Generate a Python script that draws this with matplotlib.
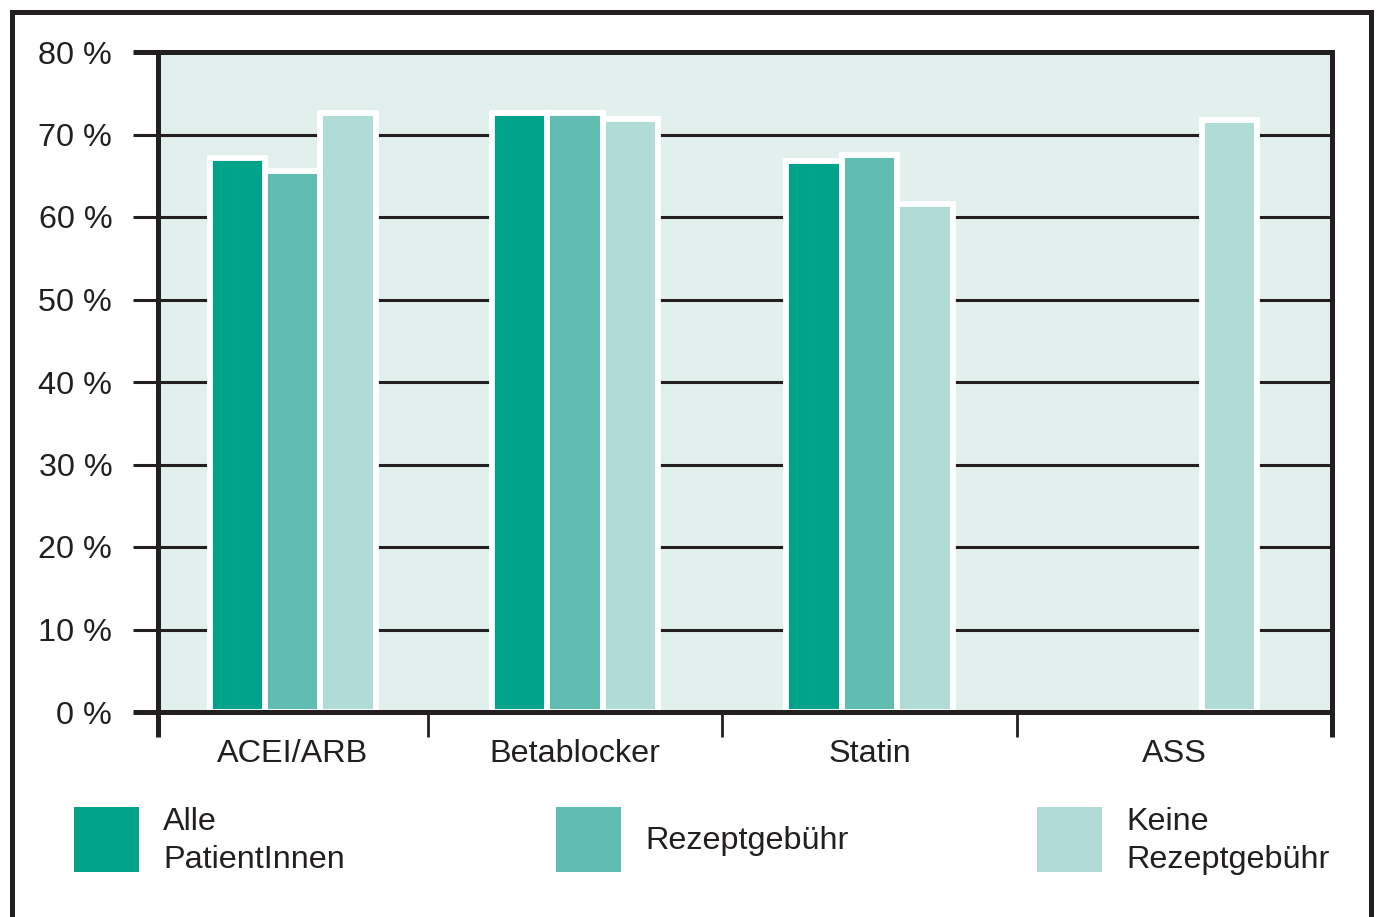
import numpy as np
import matplotlib
matplotlib.use("Agg")
import matplotlib.pyplot as plt
from matplotlib.patches import Rectangle
from matplotlib.lines import Line2D

# --- data -------------------------------------------------------------
categories = ["ACEI/ARB", "Betablocker", "Statin", "ASS"]
series_names = ["Alle\nPatientInnen", "Rezeptgebühr", "Keine\nRezeptgebühr"]
alle = [67.2, 72.6, 66.8, np.nan]
rezeptgebuehr = [65.6, 72.6, 67.5, np.nan]
keine_gebuehr = [72.6, 71.9, 61.6, 71.8]
y_ticks = [0, 10, 20, 30, 40, 50, 60, 70, 80]
y_tick_labels = [f"{v} %" for v in y_ticks]

# --- style ------------------------------------------------------------
colors = ["#00a38a", "#61bdb2", "#b0dbd6"]
ink = "#231f20"
panel_bg = "#e2f0ed"
plt.rcParams["font.family"] = ["Liberation Sans", "DejaVu Sans"]
FS = 23.3

W, H = 1379, 917
fig = plt.figure(figsize=(W / 100, H / 100), dpi=100)
fig.patch.set_facecolor("white")

def fx(px):
    return px / W

def fy(py):
    return 1 - py / H

ax = fig.add_axes([fx(158), fy(712), fx(1332) - fx(158), fy(52) - fy(712)])
ax.set_facecolor(panel_bg)

# group widths (relative) -> group edges and centres
group_span = [0.915, 1.0, 1.0, 1.07]
edges = np.concatenate([[0], np.cumsum(group_span)])
centres = (edges[:-1] + edges[1:]) / 2
bar_w = 0.188

values = [alle, rezeptgebuehr, keine_gebuehr]
for i, (vals, col) in enumerate(zip(values, colors)):
    offs = (i - 1) * bar_w
    ax.bar(centres + offs, vals, width=bar_w, color=col,
           edgecolor="white", linewidth=4.2, zorder=3)

ax.set_xlim(edges[0], edges[-1])
ax.set_ylim(0, 80)

# horizontal grid behind the bars
ax.set_axisbelow(True)
ax.yaxis.grid(True, color=ink, linewidth=2.2)
ax.xaxis.grid(False)

for s in ax.spines.values():
    s.set_color(ink)
    s.set_linewidth(3.6)
    s.set_zorder(5)

ax.set_yticks(y_ticks)
ax.set_yticklabels(y_tick_labels, fontsize=FS, color=ink)
ax.tick_params(axis="y", length=18, width=2.2, color=ink, pad=15,
               direction="out")
for t in (ax.yaxis.get_major_ticks()[0], ax.yaxis.get_major_ticks()[-1]):
    t.tick1line.set_markeredgewidth(3.6)

# category separators as major ticks, names as minor tick labels
ax.set_xticks(edges)
ax.set_xticklabels([""] * len(edges))
ax.tick_params(axis="x", which="major", length=18, width=2.0, color=ink,
               direction="out")
for t in (ax.xaxis.get_major_ticks()[0], ax.xaxis.get_major_ticks()[-1]):
    t.tick1line.set_markeredgewidth(3.6)
ax.set_xticks(centres, minor=True)
ax.set_xticklabels(categories, minor=True, fontsize=FS, color=ink)
ax.tick_params(axis="x", which="minor", length=0, pad=19.5)

# legend swatches and labels
legend_x = [74, 556, 1037]
for x0, col, name in zip(legend_x, colors, series_names):
    fig.add_artist(Rectangle((fx(x0), fy(872)), fx(65), fy(807) - fy(872),
                             transform=fig.transFigure, facecolor=col,
                             edgecolor="none"))
    fig.text(fx(x0 + 89), fy(841), name, fontsize=FS, color=ink,
             ha="left", va="center", linespacing=1.33)

# outer frame (open at the bottom)
for xs, ys in [([12, 12], [12, 930]), ([12, 1371], [12, 12]),
               ([1371, 1371], [12, 930])]:
    fig.add_artist(Line2D([fx(x) for x in xs], [fy(y) for y in ys],
                          transform=fig.transFigure, color=ink,
                          linewidth=3.6, solid_capstyle="projecting"))

fig.savefig("out.png", dpi=100, facecolor="white")
